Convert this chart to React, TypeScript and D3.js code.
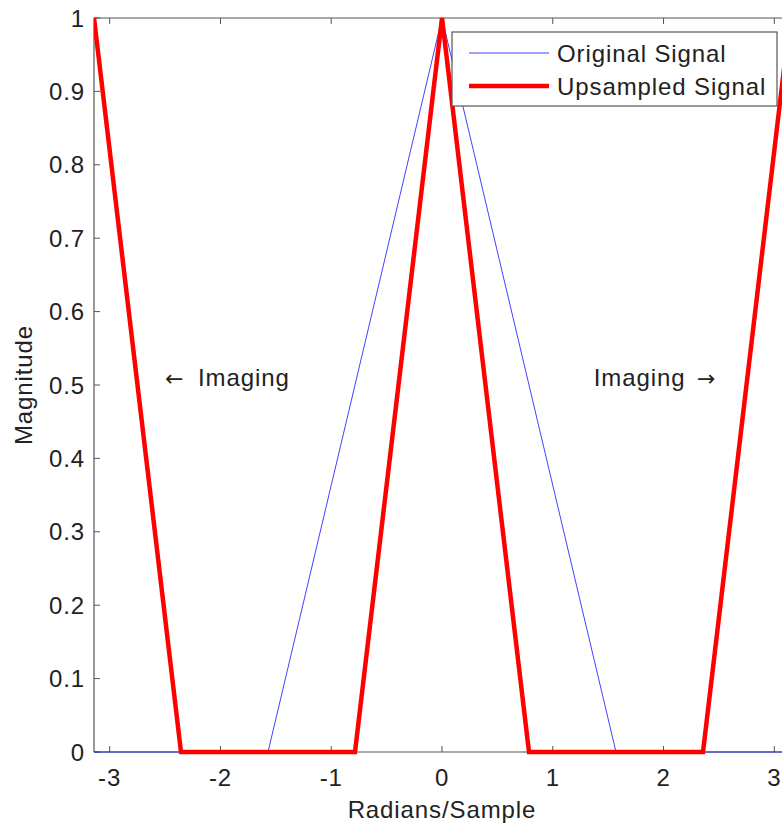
import React from "react";
import * as d3 from "d3";

const PI = Math.PI;
const originalX = [-PI, -PI / 2, 0, PI / 2, PI];
const originalY = [0, 0, 1, 0, 0];
const upsampledX = [-PI, (-3 * PI) / 4, -PI / 4, 0, PI / 4, (3 * PI) / 4, PI];
const upsampledY = [1, 0, 0, 1, 0, 0, 1];
const xTicks = [-3, -2, -1, 0, 1, 2, 3];
const yTicks = [0, 0.1, 0.2, 0.3, 0.4, 0.5, 0.6, 0.7, 0.8, 0.9, 1];
const legendLabels = ["Original Signal", "Upsampled Signal"];
const annotationWord = "Imaging";
const leftArrow = "\u2190";
const rightArrow = "\u2192";
const annotationPos = [
  { x: -2.5, y: 0.5 },
  { x: 1.37, y: 0.5 },
];

const W = 782;
const H = 826;
const left = 94;
const right = 790;
const top = 18;
const bottom = 752;
const font = "Liberation Sans, Arial, Helvetica, sans-serif";
const arrowFont = "DejaVu Sans, sans-serif";
const textColor = "#222";
const axisColor = "#555";
const fs = 24;
const ls = 0.9;

export default function App() {
  const x = d3.scaleLinear().domain([-PI, PI]).range([left, right]);
  const y = d3.scaleLinear().domain([0, 1]).range([bottom, top]);
  const line = d3
    .line<[number, number]>()
    .x((d) => x(d[0]))
    .y((d) => y(d[1]));
  const orig = originalX.map((v, i) => [v, originalY[i]] as [number, number]);
  const up = upsampledX.map((v, i) => [v, upsampledY[i]] as [number, number]);

  const lgX = 452;
  const lgY = 32;
  return (
    <svg
      width={W}
      height={H}
      style={{ position: "absolute", left: 0, top: 0, background: "#fff" }}
      fontFamily={font}
    >
      <defs>
        <clipPath id="plot">
          <rect x={left} y={top - 4} width={right - left} height={bottom - top + 8} />
        </clipPath>
      </defs>
      <line x1={left} x2={right} y1={top} y2={top} stroke={axisColor} strokeWidth={1.2} />
      <line x1={left} x2={right} y1={bottom} y2={bottom} stroke={axisColor} strokeWidth={1.2} />
      <line x1={left} x2={left} y1={top} y2={bottom} stroke={axisColor} strokeWidth={1.2} />
      <line x1={right} x2={right} y1={top} y2={bottom} stroke={axisColor} strokeWidth={1.2} />
      {xTicks.map((t) => (
        <g key={"xt" + t}>
          <line x1={x(t)} x2={x(t)} y1={bottom} y2={bottom - 6} stroke={axisColor} />
          <line x1={x(t)} x2={x(t)} y1={top} y2={top + 6} stroke={axisColor} />
          <text x={x(t)} y={786} textAnchor="middle" fontSize={fs} letterSpacing={ls} fill={textColor}>
            {t}
          </text>
        </g>
      ))}
      {yTicks.map((t) => (
        <g key={"yt" + t}>
          <line x1={left} x2={left + 6} y1={y(t)} y2={y(t)} stroke={axisColor} />
          <text x={85} y={y(t) + 8.5} textAnchor="end" fontSize={fs} letterSpacing={ls} fill={textColor}>
            {t}
          </text>
        </g>
      ))}
      <g clipPath="url(#plot)">
        <path d={line(orig) || ""} fill="none" stroke="#0000ff" strokeWidth={1} strokeOpacity={0.75} />
        <path d={line(up) || ""} fill="none" stroke="#ff0000" strokeWidth={4.5} strokeLinejoin="miter" />
      </g>
      <text x={x(annotationPos[0].x)} y={y(annotationPos[0].y) + 1} fontSize={fs} letterSpacing={ls} fill={textColor}>
        <tspan fontFamily={arrowFont} fontSize={22}>{leftArrow}</tspan>
        <tspan dx={6}> {annotationWord}</tspan>
      </text>
      <text x={x(annotationPos[1].x)} y={y(annotationPos[1].y) + 1} fontSize={fs} letterSpacing={ls} fill={textColor}>
        <tspan>{annotationWord} </tspan>
        <tspan dx={4} fontFamily={arrowFont} fontSize={22}>{rightArrow}</tspan>
      </text>
      <rect x={lgX} y={lgY} width={325} height={74} fill="#fff" stroke={axisColor} strokeWidth={1.2} />
      <line x1={469} x2={549} y1={53} y2={53} stroke="#0000ff" strokeWidth={1} strokeOpacity={0.75} />
      <line x1={469} x2={549} y1={86} y2={86} stroke="#ff0000" strokeWidth={4.5} />
      <text x={557} y={62} fontSize={fs} letterSpacing={ls} fill={textColor}>
        {legendLabels[0]}
      </text>
      <text x={557} y={95} fontSize={fs} letterSpacing={ls} fill={textColor}>
        {legendLabels[1]}
      </text>
      <text x={x(0)} y={818} textAnchor="middle" fontSize={fs} letterSpacing={ls} fill={textColor}>
        Radians/Sample
      </text>
      <text
        transform={`translate(32,${(top + bottom) / 2}) rotate(-90)`}
        textAnchor="middle"
        fontSize={fs}
        letterSpacing={ls}
        fill={textColor}
      >
        Magnitude
      </text>
    </svg>
  );
}
